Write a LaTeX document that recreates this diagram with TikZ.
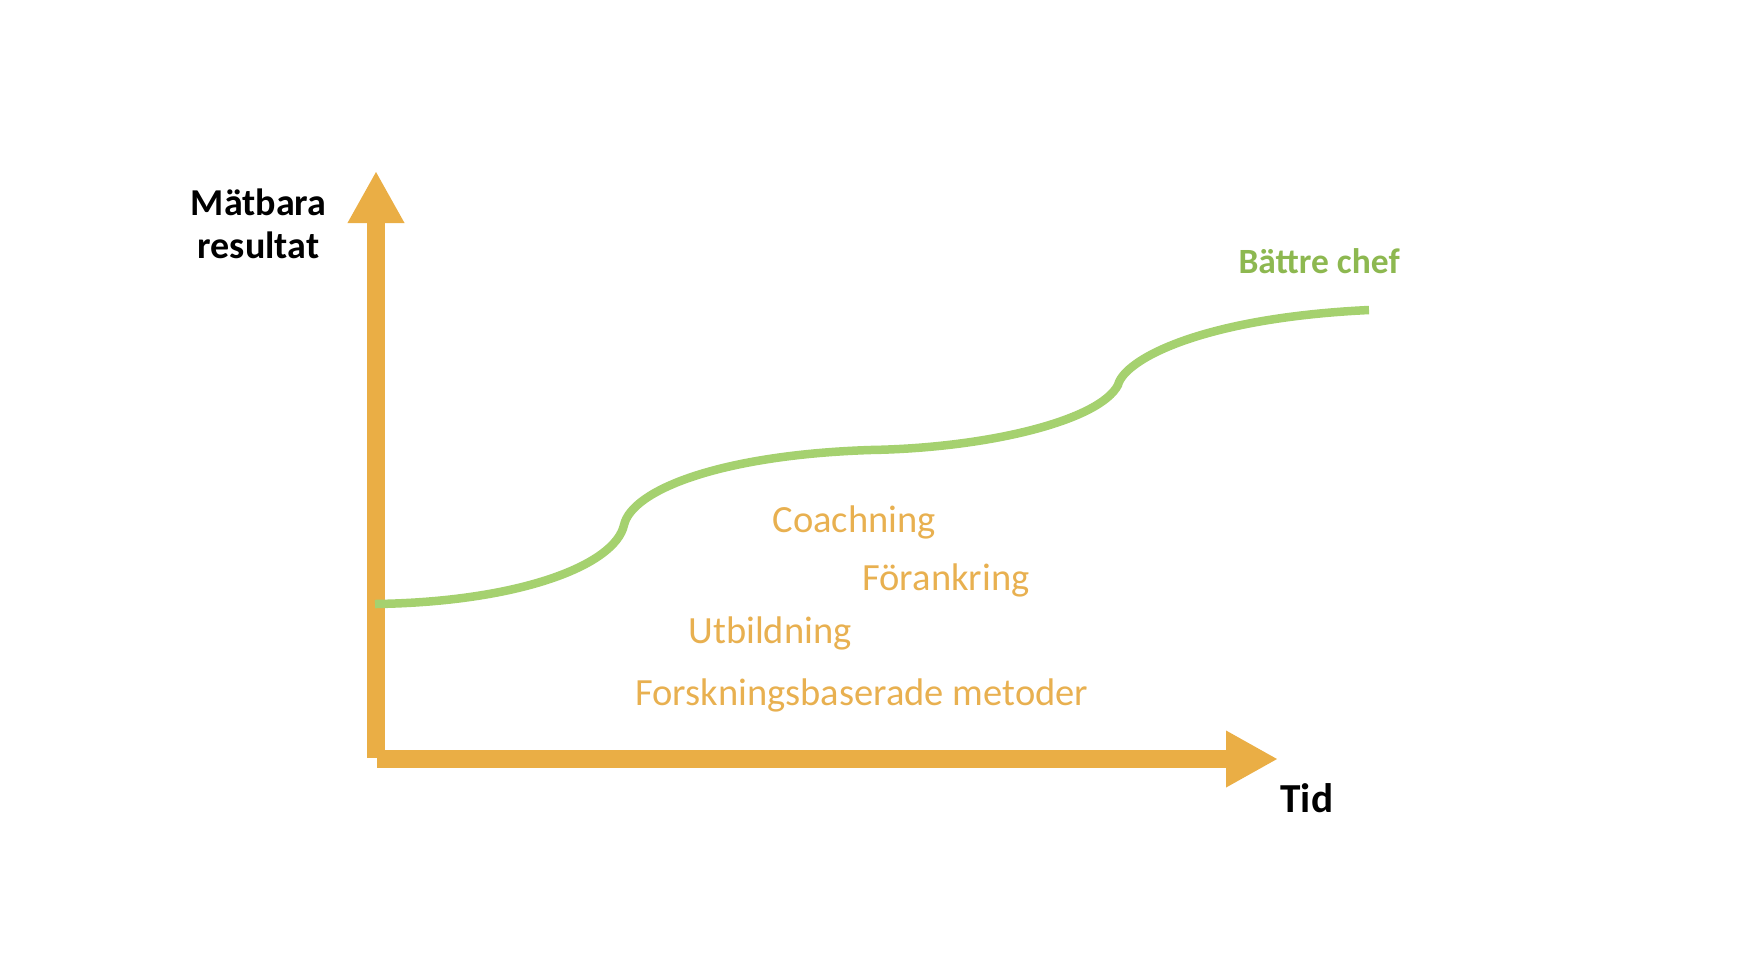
\documentclass[tikz,border=0pt]{standalone}
\usepackage{fontspec}
\setmainfont{Carlito}
\usetikzlibrary{arrows.meta}
\definecolor{axisorange}{HTML}{EAAE45}
\definecolor{textorange}{HTML}{E8B050}
\definecolor{curvegreen}{HTML}{A5D16F}
\definecolor{textgreen}{HTML}{8DB850}
\tikzset{
  axisline/.style={draw=axisorange, line width=7.2pt, line cap=butt,
    -{Triangle[length=20.8pt,width=21.2pt]}},
  growth/.style={draw=curvegreen, line width=3.4pt, line cap=butt},
  factor/.style={text=textorange, font=\fontsize{15.4}{18}\selectfont, inner sep=0pt, anchor=base west},
  axislabel/.style={text=black, font=\bfseries\fontsize{15.2}{17.2}\selectfont, inner sep=0pt, align=center},
}
\begin{document}
\begin{tikzpicture}[x=0.4pt, y=-0.4pt]
\useasboundingbox (0,0) rectangle (1753,963);
% axes
\coordinate (yorig) at (376,758);
\coordinate (ytip) at (376,171);
\coordinate (xorig) at (377,759);
\coordinate (xtip) at (1278,759);
\draw[axisline] (yorig) -- (ytip);
\draw[axisline] (xorig) -- (xtip);
% axis labels
\node[axislabel, anchor=base] (ylab) at (258.5,258) {Mätbara\\resultat};
\node[text=black, font=\bfseries\fontsize{16.5}{18}\selectfont, inner sep=0pt, anchor=base west] (xlab) at (1280,812) {Tid};
% growth curve
\coordinate (c0) at (375,604);
\coordinate (c1) at (624,525);
\coordinate (c2) at (870,450);
\coordinate (c3) at (1118,385);
\coordinate (c4) at (1369,310);
\draw[growth] (c0) .. controls (520,602) and (615,565) .. (c1)
  .. controls (632,490) and (720,455) .. (c2)
  .. controls (990,448) and (1100,420) .. (c3)
  .. controls (1124,360) and (1200,318) .. (c4);
\node[text=textgreen, font=\bfseries\fontsize{14.2}{16}\selectfont, inner sep=0pt, anchor=base west] (goal) at (1238,273) {Bättre chef};
% factors
\node[factor] (coach) at (772,532) {Coachning};
\node[factor] (forank) at (862,590) {Förankring};
\node[factor] (utb) at (688,643) {Utbildning};
\node[factor] (forsk) at (635,705) {Forskningsbaserade metoder};
\end{tikzpicture}
\end{document}
